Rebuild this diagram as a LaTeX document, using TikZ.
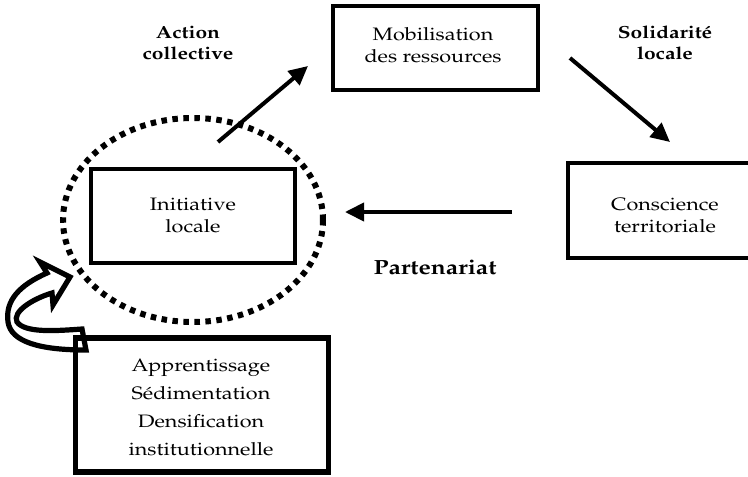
\documentclass[tikz,border=0pt]{standalone}
\usepackage[T1]{fontenc}
\usepackage{mathpazo}
\usepackage{graphicx}
\usetikzlibrary{arrows.meta}
\newcommand{\sx}[1]{\scalebox{1.2}[1]{\begin{tabular}{@{}c@{}}#1\end{tabular}}}
\begin{document}
\begin{tikzpicture}[x=1pt,y=-1pt,
  boxthin/.style={draw,line width=3.6pt,inner sep=0pt},
  boxthick/.style={draw,line width=4.8pt,inner sep=0pt},
  boxtext/.style={inner sep=0pt,font=\fontsize{18}{22.5}\selectfont},
  lbl/.style={inner sep=0pt,font=\fontsize{17.5}{21}\bfseries},
  arr/.style={line width=4pt,-{Triangle[length=19pt,width=18pt]}},
  dotline/.style={line width=6pt,dash pattern=on 5.5pt off 5.5pt}]
\useasboundingbox (0,0) rectangle (748,477);
\clip (0,0) rectangle (748,477);

% curved hollow arrow (apprentissage loop)
\draw[line width=5.2pt,line join=miter,fill=white]
  (82,329) .. controls (55,331) and (25,333) .. (17,322)
  .. controls (12,312) and (32,299) .. (52,293)
  -- (53,305) -- (70,277) -- (40,262) -- (47,273)
  .. controls (20,285) and (5,300) .. (8,322)
  .. controls (11,342) and (40,350) .. (86,350) -- cycle;

% boxes
\node[boxthin,minimum width=205pt,minimum height=84pt] (mob) at (435.5,48) {};
\node[boxtext] (mobt) at (433,47) {\sx{Mobilisation\\des ressources}};

\node[boxthin,minimum width=204pt,minimum height=94pt] (ini) at (193,216) {};
\node[boxtext] (init) at (193,217) {\sx{Initiative\\locale}};

\node[boxthick,minimum width=194pt,minimum height=95pt] (con) at (665,210.5) {};
\node[boxtext] (cont) at (665,217) {\sx{Conscience\\territoriale}};

\node[boxthick,line width=5.2pt,minimum width=253pt,minimum height=134pt] (app) at (202,405) {};
\node[inner sep=0pt,font=\fontsize{18}{28}\selectfont] (appt) at (201,408)
  {\sx{Apprentissage\\S\'edimentation\\Densification\\institutionnelle}};

% dotted ellipse
\coordinate (ell) at (193,220);
\draw[dotline] (ell) ellipse [x radius=130, y radius=102];

% arrows
\coordinate (a1s) at (218,142); \coordinate (a1e) at (308,66);
\coordinate (a2s) at (570,58);  \coordinate (a2e) at (670,142);
\coordinate (a3s) at (512,212); \coordinate (a3e) at (345,212);
\draw[arr] (a1s) -- (a1e);
\draw[arr] (a2s) -- (a2e);
\draw[arr] (a3s) -- (a3e);

% labels
\node[lbl] (lac) at (188,45) {\sx{Action\\collective}};
\node[lbl] (lsl) at (665,45) {\sx{Solidarit\'e\\locale}};
\node[inner sep=0pt,font=\fontsize{20.5}{24}\bfseries] (lpa) at (435,267) {\scalebox{1.2}[1]{Partenariat}};
\end{tikzpicture}
\end{document}
